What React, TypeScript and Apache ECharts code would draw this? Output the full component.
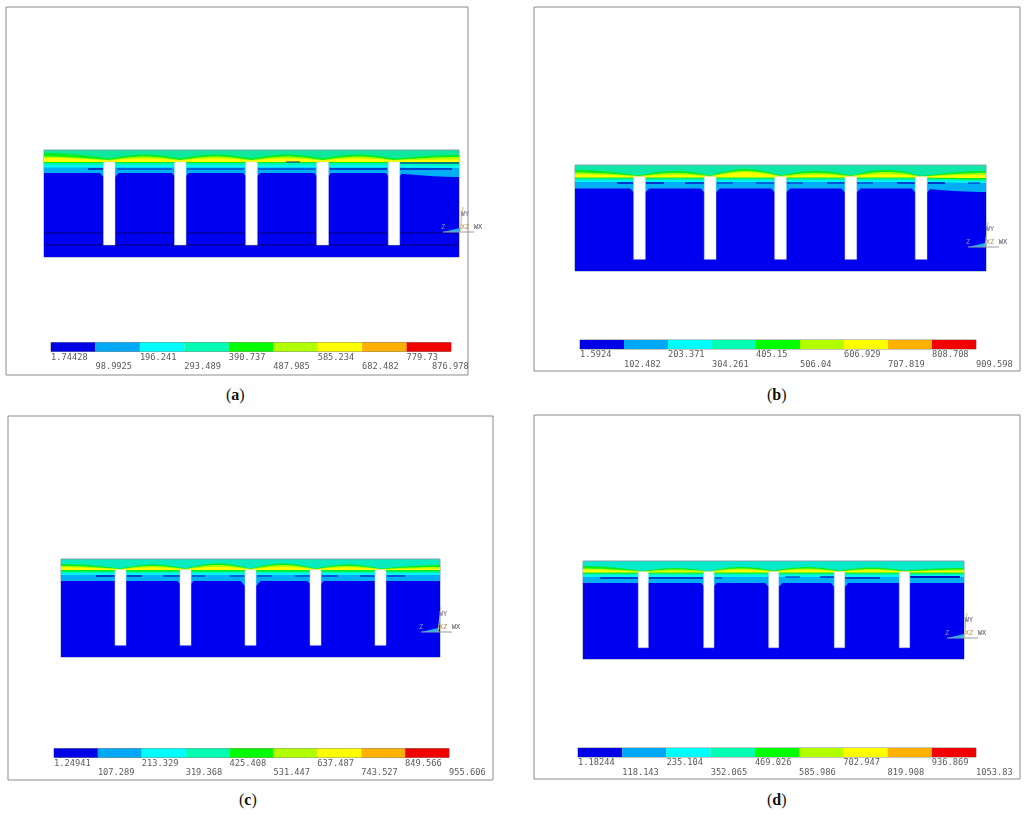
import React, { useEffect, useRef } from "react";
import * as echarts from "echarts";

// All positions; each panel's axes run in the picture's own units.
const panelNames = ["a", "b", "c", "d"];
const frameA = [6, 7, 468, 375];
const frameB = [534, 7, 1020, 371];
const frameC = [8, 416, 493, 780];
const frameD = [534, 415, 1020, 779];

const meshA = [44, 150, 459, 257];
const meshB = [575, 165, 986, 271];
const meshC = [61, 559, 440, 657];
const meshD = [583, 561, 964, 659];

const slotsA = [[103.5, 115], [174.5, 186], [245.7, 257.3], [316.7, 328.5], [388.3, 399.7]];
const slotsB = [[633.7, 645.3], [704.3, 716], [774.7, 786.3], [845, 856.7], [915.3, 927]];
const slotsC = [[115, 126], [180, 191], [245, 256], [310, 321], [375, 386]];
const slotsD = [[638.3, 648.3], [703.7, 714], [768.7, 778.7], [834.3, 844.7], [899.3, 909.7]];
const slotRangeA = [162, 245];
const slotRangeB = [176.7, 259.3];
const slotRangeC = [569.7, 645.3];
const slotRangeD = [571.7, 647.7];

// Contour edges at: left end, slot 1, bay, slot 2, bay, slot 3, bay, slot 4, bay, slot 5, right end
const edgesA = [
  [153, 158.5, 154.5, 158.5, 154.5, 158.5, 154.5, 158.5, 154.5, 158.5, 155],
  [156.5, 160, 156.5, 160, 156.5, 160, 156.5, 160, 156.5, 160, 157],
  [158, 160.5, 158.5, 160.5, 158.5, 160.5, 158.5, 160.5, 158.5, 160.5, 159.5],
  [162, 162, 162, 162, 162, 162, 162, 162, 162, 162, 162],
  [163, 163, 163, 163, 163, 163, 163, 163, 163, 163, 163.5],
  [165, 165, 165, 165, 165, 165, 165, 165, 165, 165, 165.5],
  [167.5, 167.5, 167.5, 167.5, 167.5, 167.5, 167.5, 167.5, 167.5, 167.5, 168],
  [173, 173, 173, 173, 173, 173, 173, 173, 173, 173, 177],
];
const edgesB = [
  [170, 175.5, 171, 175.5, 169, 175.5, 171, 175.5, 170, 176, 171],
  [172.5, 176, 173, 176, 171, 176, 173, 176, 172, 176.5, 173],
  [174.5, 176.5, 175, 176.5, 172.5, 176.5, 175, 176.5, 174.5, 176.5, 175],
  [177.5, 177.5, 177.5, 177.5, 177.5, 177.5, 177.5, 177.5, 177.5, 177.5, 178],
  [178.5, 178.5, 178.5, 178.5, 178.5, 178.5, 178.5, 178.5, 178.5, 178.5, 179.5],
  [180, 180, 180, 180, 180, 180, 180, 180, 180, 180, 181],
  [182, 182, 182, 182, 182, 182, 182, 182, 182, 182, 183],
  [188.5, 188.5, 188.5, 188.5, 188.5, 188.5, 188.5, 188.5, 188.5, 188.5, 192],
];
const edgesC = [
  [564, 568.5, 564.5, 568.5, 563.5, 568.5, 563.5, 568.5, 564.5, 568.5, 565],
  [566, 569, 566, 569, 565, 569, 565, 569, 566, 569, 567],
  [567.5, 569.5, 567.5, 569.5, 567, 569.5, 567, 569.5, 567.5, 569.5, 568.5],
  [570, 570, 570, 570, 570, 570, 570, 570, 570, 570, 570],
  [571.5, 571.5, 571.5, 571.5, 571.5, 571.5, 571.5, 571.5, 571.5, 571.5, 571.5],
  [573, 573, 573, 573, 573, 573, 573, 573, 573, 573, 573],
  [575, 575, 575, 575, 575, 575, 575, 575, 575, 575, 575],
  [581, 581, 581, 581, 581, 581, 581, 581, 581, 581, 581],
];
const edgesD = [
  [566, 571, 568, 571.5, 567, 570.5, 567, 570.5, 567.5, 570.5, 568],
  [568.5, 571.5, 569.5, 571.5, 568.5, 571.5, 568.5, 571.5, 569, 571.5, 569.5],
  [570, 572, 571.5, 572, 570, 571.5, 570, 571.5, 570.5, 571.5, 571],
  [572.5, 572.5, 572.5, 572.5, 572.5, 572.5, 572.5, 572.5, 572.5, 572.5, 572.5],
  [573.5, 573.5, 573.5, 573.5, 573.5, 573.5, 573.5, 573.5, 573.5, 573.5, 573.5],
  [575, 575, 575, 575, 575, 575, 575, 575, 575, 575, 575],
  [577, 577, 577, 577, 577, 577, 577, 577, 577, 577, 577],
  [583, 583, 583, 583, 583, 583, 583, 583, 583, 583, 583],
];

const edgeColors = ["#06EE20", "#B2FF00", "#FFFF00", "#00F020", "#00F5B0", "#00F5F5", "#00AEF5", "#0000F0"];
const topColors = ["#0EE89C", "#0EE8A8", "#08ECC0", "#04EBC8"];

const bumpsA = [4, 3, 3, 3, 3];
const bumpsB = [4, 4, 4, 4, 4];
const bumpsC = [0, 3, 5, 3, 0];
const bumpsD = [0, 3, 4, 4, 0];

// Thin dark contour lines: x from, x to, y, width
const darkA = [
  [88, 103, 169, 1.6], [117, 172, 169, 1], [187, 244, 169, 1], [258, 315, 169, 1], [330, 387, 169, 1.4], [400, 452, 169, 1.4],
  [44, 459, 233, 1.2], [44, 459, 245, 1.2], [400, 459, 163, 1], [286, 300, 162, 1],
];
const darkB = [
  [617, 633, 183, 1.6], [646, 664, 183, 1.6], [685, 704, 183, 1.4], [717, 733, 183, 1], [756, 774, 183, 1],
  [787, 803, 183, 1], [827, 845, 183, 1.2], [857, 873, 183, 1], [897, 915, 183, 1.4], [928, 945, 183, 1.6], [968, 980, 183, 1],
];
const darkC = [
  [96, 115, 576, 1.6], [127, 142, 576, 1.4], [163, 180, 576, 1.2], [192, 205, 576, 1], [230, 245, 576, 1],
  [257, 272, 576, 1], [295, 310, 576, 1], [322, 338, 576, 1.2], [360, 375, 576, 1.2], [387, 405, 576, 1.2],
];
const darkD = [
  [600, 638, 578, 1.6], [649, 703, 578, 1.6], [715, 722, 578, 1], [785, 800, 577, 1], [820, 834, 577, 1.4], [845, 880, 578, 1.6],
  [910, 960, 577, 1.8],
];

const legendBoxA = [51, 342.5, 451, 351.5];
const legendBoxB = [580, 340, 976, 349];
const legendBoxC = [54, 748.5, 449, 757.5];
const legendBoxD = [578, 748, 976, 757];

const labelsA = ["1.74428", "98.9925", "196.241", "293.489", "390.737", "487.985", "585.234", "682.482", "779.73", "876.978"];
const labelsB = ["1.5924", "102.482", "203.371", "304.261", "405.15", "506.04", "606.929", "707.819", "808.708", "909.598"];
const labelsC = ["1.24941", "107.289", "213.329", "319.368", "425.408", "531.447", "637.487", "743.527", "849.566", "955.606"];
const labelsD = ["1.18244", "118.143", "235.104", "352.065", "469.026", "585.986", "702.947", "819.908", "936.869", "1053.83"];
const lastLabelShift = [-19, 0, 0, 0];

const legendColors = ["#0000E6", "#00A8F5", "#00FFFF", "#00FFB2", "#00FF00", "#B2FF00", "#FFFF00", "#FFB000", "#F00000"];

const triadOrigins = [[460, 232], [985, 247], [438, 632], [964, 638]];
const captionSpots = [[237, 396], [778, 396], [250, 801], [778, 801]];

const frames = [frameA, frameB, frameC, frameD];
const meshes = [meshA, meshB, meshC, meshD];
const slotSets = [slotsA, slotsB, slotsC, slotsD];
const slotRanges = [slotRangeA, slotRangeB, slotRangeC, slotRangeD];
const edgeSets = [edgesA, edgesB, edgesC, edgesD];
const bumpSets = [bumpsA, bumpsB, bumpsC, bumpsD];
const darkSets = [darkA, darkB, darkC, darkD];
const legendBoxes = [legendBoxA, legendBoxB, legendBoxC, legendBoxD];
const labelSets = [labelsA, labelsB, labelsC, labelsD];

function edgeCurve(stations: number[], ys: number[]) {
  // Bays are rounded, with a cusp at every slot.
  const pts: number[][] = [];
  for (let k = 0; k < stations.length - 1; k++) {
    const steps = 10;
    for (let s = 0; s < steps; s++) {
      const t = s / steps;
      const f = k % 2 === 0 ? 1 - Math.cos((t * Math.PI) / 2) : Math.sin((t * Math.PI) / 2);
      pts.push([stations[k] + (stations[k + 1] - stations[k]) * t, ys[k] + (ys[k + 1] - ys[k]) * f]);
    }
  }
  pts.push([stations[stations.length - 1], ys[ys.length - 1]]);
  return pts;
}

function panelSeries(i: number) {
  const mesh = meshes[i];
  const slots = slotSets[i];
  const range = slotRanges[i];
  const edges = edgeSets[i];
  const bumps = bumpSets[i];
  const stations = [mesh[0]];
  slots.forEach((s, k) => {
    const c = (s[0] + s[1]) / 2;
    stations.push(c);
    if (k < slots.length - 1) stations.push((c + (slots[k + 1][0] + slots[k + 1][1]) / 2) / 2);
  });
  stations.push(mesh[2]);
  const blueEdge = edges[edges.length - 1];
  const axes = { xAxisIndex: i * 2, yAxisIndex: i * 2 };
  const base = { type: "custom", ...axes, silent: true, clip: false };

  const out: any[] = [
    {
      ...base,
      name: `mesh ${panelNames[i]}`,
      data: [mesh],
      renderItem: (_: any, api: any) => {
        const a = api.coord([api.value(0), api.value(1)]);
        const b = api.coord([api.value(2), api.value(3)]);
        return {
          type: "rect",
          shape: { x: a[0], y: a[1], width: b[0] - a[0], height: b[1] - a[1] },
          style: { fill: topColors[i], stroke: "#7FA0B0", lineWidth: 1 },
        };
      },
    },
    {
      ...base,
      name: `contours ${panelNames[i]}`,
      data: edges.map((_, k) => [k]),
      renderItem: (p: any, api: any) => {
        const curve = edgeCurve(stations, edges[p.dataIndex]);
        const pts = curve.concat([[mesh[2], mesh[3]], [mesh[0], mesh[3]]]).map((q) => api.coord(q));
        return { type: "polygon", shape: { points: pts }, style: { fill: edgeColors[p.dataIndex] } };
      },
    },
    {
      ...base,
      name: `bumps ${panelNames[i]}`,
      data: bumps.map((d, k) => [slots[k][0], slots[k][1], d]),
      renderItem: (p: any, api: any) => {
        const x0 = api.value(0);
        const x1 = api.value(1);
        const d = api.value(2);
        const y = blueEdge[p.dataIndex * 2 + 1];
        const pts = [[x0 - d, y - 0.5], [x0, y + d], [x1, y + d], [x1 + d, y - 0.5]].map((q) => api.coord(q));
        return { type: "polygon", shape: { points: pts }, style: { fill: d ? "#00AEF5" : "transparent" } };
      },
    },
    {
      ...base,
      name: `lines ${panelNames[i]}`,
      data: darkSets[i],
      renderItem: (_: any, api: any) => {
        const a = api.coord([api.value(0), api.value(2)]);
        const b = api.coord([api.value(1), api.value(2)]);
        const long = api.value(1) - api.value(0) > 200;
        return {
          type: "line",
          shape: { x1: a[0], y1: a[1], x2: b[0], y2: b[1] },
          style: { stroke: long ? "#000070" : "#0018C0", lineWidth: api.value(3) },
        };
      },
    },
    {
      ...base,
      name: `slots ${panelNames[i]}`,
      data: slots.map((s) => [s[0], s[1], range[0], range[1]]),
      renderItem: (_: any, api: any) => {
        const a = api.coord([api.value(0), api.value(2)]);
        const b = api.coord([api.value(1), api.value(3)]);
        return {
          type: "rect",
          shape: { x: a[0], y: a[1], width: b[0] - a[0], height: b[1] - a[1] },
          style: { fill: "#FFFFFF", stroke: "#C8D0E0", lineWidth: 0.5 },
        };
      },
    },
    {
      ...base,
      name: `triad ${panelNames[i]}`,
      data: [triadOrigins[i]],
      renderItem: (_: any, api: any) => {
        const o = api.coord([api.value(0), api.value(1)]);
        const label = (text: string, dx: number, dy: number, fill: string) => ({
          type: "text",
          style: { text, x: o[0] + dx, y: o[1] + dy, fill, fontFamily: "DejaVu Sans Mono", fontSize: 7, align: "center", verticalAlign: "middle" },
        });
        return {
          type: "group",
          children: [
            { type: "polygon", shape: { points: [[o[0] - 17, o[1]], [o[0], o[1] - 4], [o[0], o[1]]] }, style: { fill: "#20B0F0" } },
            { type: "line", shape: { x1: o[0] - 17, y1: o[1], x2: o[0] + 14, y2: o[1] }, style: { stroke: "#9A9AA8", lineWidth: 1 } },
            { type: "line", shape: { x1: o[0], y1: o[1], x2: o[0] + 3, y2: o[1] - 25 }, style: { stroke: "#C8C080", lineWidth: 1 } },
            label("WY", 5, -18, "#6A6090"),
            label("Z", -17, -5, "#8898C8"),
            label("XZ", 5, -5, "#B89050"),
            label("WX", 18, -5, "#505058"),
          ],
        };
      },
    },
  ];

  const ticks = labelSets[i].map(Number);
  out.push({
    type: "custom",
    name: `legend ${panelNames[i]}`,
    xAxisIndex: i * 2 + 1,
    yAxisIndex: i * 2 + 1,
    silent: true,
    clip: false,
    data: ticks.map((t, k) => [t, k < ticks.length - 1 ? ticks[k + 1] : t]),
    renderItem: (p: any, api: any) => {
      const k = p.dataIndex;
      const a = api.coord([api.value(0), 1]);
      const b = api.coord([api.value(1), 0]);
      const children: any[] = [];
      if (k < legendColors.length) {
        children.push({
          type: "rect",
          shape: { x: a[0], y: a[1], width: b[0] - a[0], height: b[1] - a[1] },
          style: { fill: legendColors[k] },
        });
      }
      children.push({
        type: "text",
        style: {
          text: labelSets[i][k],
          x: a[0] + (k === ticks.length - 1 ? lastLabelShift[i] : 0),
          y: b[1] + (k % 2 === 0 ? 5 : 14.5),
          fill: "#5A5A5A",
          fontFamily: "DejaVu Sans Mono",
          fontSize: 8.7,
          align: "left",
          verticalAlign: "middle",
        },
      });
      return { type: "group", children };
    },
  });
  return out;
}

function buildOption() {
  const grid: any[] = [];
  const xAxis: any[] = [];
  const yAxis: any[] = [];
  let series: any[] = [];
  frames.forEach((f, i) => {
    grid.push({
      left: f[0], top: f[1], width: f[2] - f[0], height: f[3] - f[1],
      show: true, backgroundColor: "#FFFFFF", borderColor: "#8C8C8C", borderWidth: 1,
    });
    xAxis.push({ type: "value", gridIndex: i * 2, min: f[0], max: f[2], show: false });
    yAxis.push({ type: "value", gridIndex: i * 2, min: f[1], max: f[3], inverse: true, show: false });
    const b = legendBoxes[i];
    const t = labelSets[i].map(Number);
    grid.push({
      left: b[0], top: b[1], width: b[2] - b[0], height: b[3] - b[1],
      show: true, backgroundColor: "transparent", borderColor: "#8A8A80", borderWidth: 1,
    });
    xAxis.push({ type: "value", gridIndex: i * 2 + 1, min: t[0], max: t[t.length - 1], show: false });
    yAxis.push({ type: "value", gridIndex: i * 2 + 1, min: 0, max: 1, show: false });
    series = series.concat(panelSeries(i));
  });
  return { animation: false, backgroundColor: "#FFFFFF", grid, xAxis, yAxis, series };
}

function captionOption() {
  return {
    animation: false,
    backgroundColor: "transparent",
    graphic: captionSpots.map((c, i) => ({
      type: "text",
      left: c[0] - 11,
      top: c[1] - 10,
      style: {
        text: `{n|(}{b|${panelNames[i]}}{n|)}`,
        rich: {
          n: { fontFamily: "Liberation Serif", fontSize: 16, fill: "#111111" },
          b: { fontFamily: "Liberation Serif", fontSize: 16, fontWeight: "bold", fill: "#111111" },
        },
      },
    })),
  };
}

const boxStyle: React.CSSProperties = { position: "absolute", left: 0, top: 0, width: 1024, height: 819 };

export default function App() {
  const panelRef = useRef<HTMLDivElement>(null);
  const captionRef = useRef<HTMLDivElement>(null);
  useEffect(() => {
    const a = echarts.init(panelRef.current!, undefined, { renderer: "svg" });
    const b = echarts.init(captionRef.current!, undefined, { renderer: "svg" });
    a.setOption(buildOption() as any);
    b.setOption(captionOption() as any);
    return () => {
      a.dispose();
      b.dispose();
    };
  }, []);
  return (
    <div style={{ ...boxStyle, overflow: "hidden" }}>
      <div ref={panelRef} style={{ ...boxStyle, filter: "blur(0.7px)" }} />
      <div ref={captionRef} style={{ ...boxStyle, pointerEvents: "none" }} />
    </div>
  );
}
